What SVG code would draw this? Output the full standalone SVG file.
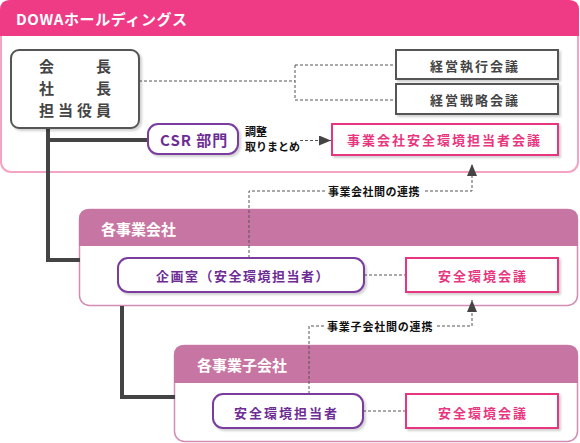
<svg xmlns="http://www.w3.org/2000/svg" width="580" height="443" viewBox="0 0 580 443">
<style>
text{font-family:"Noto Sans CJK JP","Noto Sans",sans-serif;font-weight:bold}
.title{fill:#fff;font-size:15px}
.gray{fill:#444}
.purple{fill:#6e2d95}
.pink{fill:#e8367f}
.small{fill:#111;font-size:11px}
.dash{fill:none;stroke:#555;stroke-width:1;stroke-dasharray:3 2}
.thick{fill:none;stroke:#444;stroke-width:4}
.gbox{fill:#fff;stroke:#555;stroke-width:2}
.pbox{fill:#fff;stroke:#e8367f;stroke-width:2}
.vbox{fill:#fff;stroke:#7a3c9e;stroke-width:2}
</style>
<defs>
<filter id="sh" x="-10%" y="-10%" width="130%" height="140%">
<feDropShadow dx="2" dy="2" stdDeviation="1" flood-color="#000" flood-opacity="0.18"/>
</filter>
<marker id="arr" viewBox="0 0 12 10" refX="12" refY="5" markerWidth="12" markerHeight="10" markerUnits="userSpaceOnUse" orient="auto">
<path d="M0,0 L12,5 L0,10 Z" fill="#444"/>
</marker>
</defs>

<g id="dowa">
<rect x="1" y="1" width="577" height="171" rx="10" fill="#fff" stroke="#f4a3c3" stroke-width="2"/>
<path d="M0,36 V10 Q0,0 10,0 H569 Q579,0 579,10 V36 Z" fill="#ef3a85"/>
<text class="title" x="16" y="25" letter-spacing="0.6">DOWAホールディングス</text>
</g>

<g id="kaisha">
<rect x="79.5" y="209.5" width="498" height="96" rx="10" fill="#fff" stroke="#d38db3" stroke-width="1.5"/>
<path d="M79,246 V219 Q79,209 89,209 H568 Q578,209 578,219 V246 Z" fill="#c775a2"/>
<text class="title" x="101" y="235">各事業会社</text>
</g>

<g id="kogaisha">
<rect x="174.5" y="345.5" width="403" height="96" rx="10" fill="#fff" stroke="#d38db3" stroke-width="1.5"/>
<path d="M174,383 V355 Q174,345 184,345 H568 Q578,345 578,355 V383 Z" fill="#c775a2"/>
<text class="title" x="197" y="371">各事業子会社</text>
</g>

<g id="connectors">
<path class="thick" d="M48,128 V260 H80"/>
<path class="thick" d="M48,140 H148"/>
<path class="thick" d="M122,306 V397 H175"/>
<path class="dash" d="M139,81 H295 M295,65 V100 M295,65 H396 M295,100 H396"/>
<path class="dash" d="M300,140.5 H331" marker-end="url(#arr)"/>
<path class="dash" d="M249,258 V191 H325 M425,191 H472 V164" marker-end="url(#arr)"/>
<path class="dash" d="M309,394 V326 H325 M437,326 H472 V300" marker-end="url(#arr)"/>
<path class="dash" d="M364,275 H406"/>
<path class="dash" d="M363,411 H406"/>
<text class="small" x="328" y="196" letter-spacing="0.5">事業会社間の連携</text>
<text class="small" x="327" y="331" letter-spacing="0.8">事業子会社間の連携</text>
<text class="small"><tspan x="245" y="136">調整</tspan><tspan x="245" y="151">取りまとめ</tspan></text>
</g>

<g id="chairman">
<rect x="11" y="50" width="128" height="78" rx="8" fill="#fff" stroke="#555" stroke-width="2" filter="url(#sh)"/>
<text class="gray" font-size="15" letter-spacing="4"><tspan x="39" y="72">会　　長</tspan><tspan x="39" y="94">社　　長</tspan><tspan x="39" y="116">担当役員</tspan></text>
</g>

<g id="shikko">
<rect class="gbox" x="396" y="50" width="162" height="29" filter="url(#sh)"/>
<text class="gray" font-size="13" x="430" y="70.5" letter-spacing="2">経営執行会議</text>
</g>

<g id="senryaku">
<rect class="gbox" x="396" y="84" width="162" height="30" filter="url(#sh)"/>
<text class="gray" font-size="13" x="430" y="105" letter-spacing="2">経営戦略会議</text>
</g>

<g id="csr">
<rect class="vbox" x="148" y="124" width="90" height="30" rx="10" filter="url(#sh)"/>
<text class="purple" font-size="15" x="160" y="145.5" letter-spacing="1">CSR 部門</text>
</g>

<g id="tantosha-kaigi">
<rect class="pbox" x="332" y="124" width="226" height="31" filter="url(#sh)"/>
<text class="pink" font-size="13" x="347" y="145" letter-spacing="2">事業会社安全環境担当者会議</text>
</g>

<g id="kikakushitsu">
<rect class="vbox" x="118" y="258" width="246" height="34" rx="10" filter="url(#sh)"/>
<text class="purple" font-size="13" x="156" y="281" letter-spacing="1.5">企画室（安全環境担当者）</text>
</g>

<g id="kaigi-1">
<rect class="pbox" x="406" y="258" width="152" height="34" filter="url(#sh)"/>
<text class="pink" font-size="13" x="438" y="281" letter-spacing="2">安全環境会議</text>
</g>

<g id="tantosha">
<rect class="vbox" x="213" y="394" width="150" height="34" rx="10" filter="url(#sh)"/>
<text class="purple" font-size="13" x="234" y="418" letter-spacing="2">安全環境担当者</text>
</g>

<g id="kaigi-2">
<rect class="pbox" x="406" y="394" width="152" height="34" filter="url(#sh)"/>
<text class="pink" font-size="13" x="438" y="418" letter-spacing="2">安全環境会議</text>
</g>
</svg>
